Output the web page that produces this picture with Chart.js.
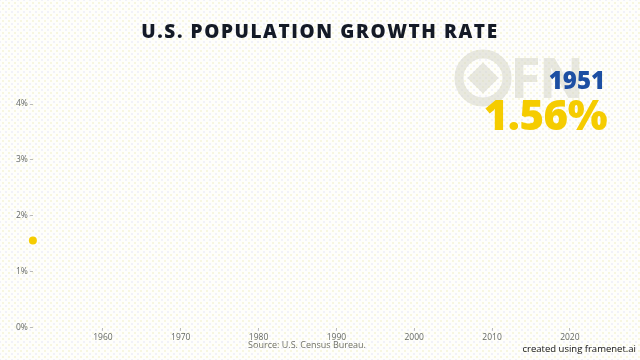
<!DOCTYPE html>
<html><head><meta charset="utf-8">
<script src="https://cdn.jsdelivr.net/npm/chart.js@4/dist/chart.umd.min.js"></script>
<style>
html,body{margin:0;padding:0;}
body{width:640px;height:360px;overflow:hidden;position:relative;background-color:#fefefb;
background-image:radial-gradient(circle,#efedc0 0.6px,transparent 0.8px),radial-gradient(circle,#e2e2f6 0.6px,transparent 0.8px);
background-size:6px 6px;background-position:0 0,3px 3px;font-family:"Open Sans","Noto Sans",sans-serif;}
canvas{position:absolute;left:0;top:0;}
.t{position:absolute;white-space:nowrap;}
#title{left:0;width:640px;text-align:center;top:18px;font-size:19px;font-weight:800;letter-spacing:1.6px;color:#141a26;}
#wm{left:453px;top:48px;width:60px;height:60px;}
#wmtxt{left:510px;top:38px;font-size:56px;font-weight:700;color:rgba(210,210,195,0.5);letter-spacing:-2px;}
#year{right:35px;top:63px;font-size:24px;font-weight:800;color:#1d4fa3;}
#val{right:33px;top:85px;font-size:42px;font-weight:800;color:#f5cc00;letter-spacing:-0.5px;}
#src{left:0;width:614px;text-align:center;top:338px;font-size:9px;color:#6f7068;}
#cred{right:4px;top:342px;font-size:9.5px;color:#111;}
</style></head><body>
<svg id="wm" class="t" viewBox="0 0 60 60"><circle cx="30" cy="30" r="24" fill="none" stroke="rgba(210,210,195,0.5)" stroke-width="9"/><rect x="19" y="19" width="22" height="22" transform="rotate(45 30 30)" fill="rgba(210,210,195,0.5)"/></svg>
<div id="wmtxt" class="t">FN</div>
<canvas id="c" width="640" height="360"></canvas>
<div id="title" class="t">U.S. POPULATION GROWTH RATE</div>
<div id="year" class="t">1951</div>
<div id="val" class="t">1.56%</div>
<div id="src" class="t">Source: U.S. Census Bureau.</div>
<div id="cred" class="t">created using framenet.ai</div>
<script>
const years = [1951];
const growthRate = [1.56];
const xTickYears = [1960, 1970, 1980, 1990, 2000, 2010, 2020];
const yTicks = [0, 1, 2, 3, 4];

new Chart(document.getElementById('c'), {
  type: 'line',
  data: {
    datasets: [{
      data: years.map((y, i) => ({x: y, y: growthRate[i]})),
      borderColor: '#f5cc00',
      backgroundColor: '#f5cc00',
      pointRadius: 4,
      pointBorderWidth: 0,
      showLine: true,
      borderWidth: 2,
      clip: false
    }]
  },
  options: {
    responsive: false,
    animation: false,
    events: [],
    layout: {padding: {left: 14, right: 39, top: 104, bottom: 15}},
    plugins: {legend: {display: false}, tooltip: {enabled: false}},
    scales: {
      x: {
        type: 'linear', min: 1951, max: 2024,
        afterBuildTicks: s => { s.ticks = xTickYears.map(v => ({value: v})); },
        ticks: {color: '#666a66', font: {size: 8.5, family: 'Open Sans'}, padding: 2, callback: v => String(v)},
        grid: {drawOnChartArea: false, drawTicks: true, tickLength: 3, color: '#bbbbbb'},
        border: {display: false}
      },
      y: {
        min: 0, max: 4,
        afterBuildTicks: s => { s.ticks = yTicks.map(v => ({value: v})); },
        ticks: {color: '#666a66', font: {size: 8.5, family: 'Open Sans'}, padding: 2, callback: v => v + '%'},
        grid: {drawOnChartArea: false, drawTicks: true, tickLength: 3, color: '#bbbbbb'},
        border: {display: false}
      }
    }
  }
});
</script>
</body></html>
